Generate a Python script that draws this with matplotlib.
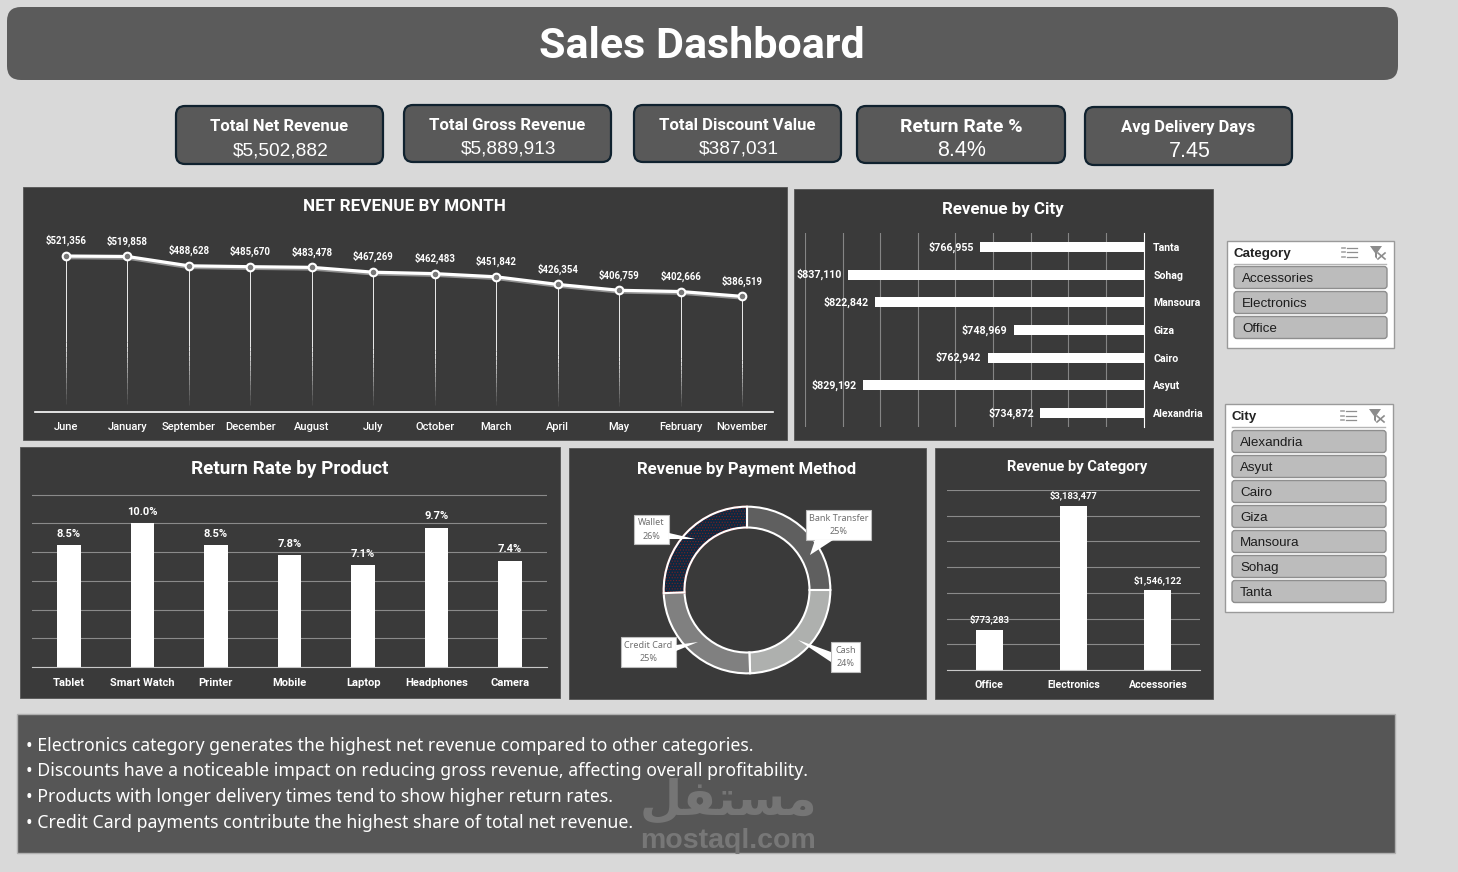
import numpy as np
import matplotlib
matplotlib.use('Agg')
import matplotlib.pyplot as plt
import matplotlib.patheffects as pe
from matplotlib.patches import FancyBboxPatch, Rectangle, Polygon, Wedge

# data
months = ['June', 'January', 'September', 'December', 'August', 'July', 'October', 'March', 'April', 'May', 'February', 'November']
month_rev = [521356, 519858, 488628, 485670, 483478, 467269, 462483, 451842, 426354, 406759, 402666, 386519]

cities = ['Tanta', 'Sohag', 'Mansoura', 'Giza', 'Cairo', 'Asyut', 'Alexandria']
city_rev = [766955, 837110, 822842, 748969, 762942, 829192, 734872]

products = ['Tablet', 'Smart Watch', 'Printer', 'Mobile', 'Laptop', 'Headphones', 'Camera']
return_rate = [8.5, 10.0, 8.5, 7.8, 7.1, 9.7, 7.4]

pay_names = ['Bank Transfer', 'Cash', 'Credit Card', 'Wallet']
pay_share = [25.0, 24.4, 25.0, 25.6]
pay_labels = ['25%', '24%', '25%', '26%']

categories = ['Office', 'Electronics', 'Accessories']
cat_rev = [773283, 3183477, 1546122]

kpi_titles = ['Total Net Revenue', 'Total Gross Revenue', 'Total Discount Value', 'Return Rate %', 'Avg Delivery Days']
kpi_values = ['$5,502,882', '$5,889,913', '$387,031', '8.4%', '7.45']

slicer_category = ['Accessories', 'Electronics', 'Office']
slicer_city = ['Alexandria', 'Asyut', 'Cairo', 'Giza', 'Mansoura', 'Sohag', 'Tanta']

notes = [
    '• Electronics category generates the highest net revenue compared to other categories.',
    '• Discounts have a noticeable impact on reducing gross revenue, affecting overall profitability.',
    '• Products with longer delivery times tend to show higher return rates.',
    '• Credit Card payments contribute the highest share of total net revenue.',
]

W, H = 1458, 872
HEAD = 'Roboto'
BODY = 'Liberation Sans'
NOTE = 'Noto Sans'
PANEL = '#3a3a3a'

fig = plt.figure(figsize=(W / 100, H / 100), dpi=100, facecolor='#d9d9d9')


def px_axes(x0, y0, x1, y1, z=2):
    # axes placed by pixel box, y measured from the top
    ax = fig.add_axes([x0 / W, 1 - y1 / H, (x1 - x0) / W, (y1 - y0) / H], zorder=z)
    ax.patch.set_alpha(0)
    return ax


def clean(ax, keep=()):
    for name, s in ax.spines.items():
        s.set_visible(name in keep)
    ax.tick_params(length=0)


bg = px_axes(0, 0, W, H, z=0)
bg.axis('off')
bg.set_xlim(0, W)
bg.set_ylim(H, 0)

bg.add_patch(FancyBboxPatch((21, 21), 1363, 45, boxstyle='round,pad=14,rounding_size=14', fc='#5b5b5b', ec='none'))
bg.add_patch(Rectangle((17, 714), 1378, 139, fc='#565656', ec='#b0b0b0', lw=1))
bg.text(702, 46, 'Sales Dashboard', color='white', fontsize=31, fontweight='bold', family=HEAD, ha='center', va='center')

# kpi cards
kpi_boxes = [(176, 106, 383, 164), (404, 105, 611, 162), (634, 105, 841, 162), (857, 106, 1065, 163), (1085, 107, 1292, 165)]
kpi_title_size = [12, 12.1, 12.1, 14, 12]
kpi_value_size = [13.8, 13.8, 13.8, 15.5, 15.5]
for (x0, y0, x1, y1), t, v, ts, vs in zip(kpi_boxes, kpi_titles, kpi_values, kpi_title_size, kpi_value_size):
    bg.add_patch(FancyBboxPatch((x0 + 9, y0 + 9), x1 - x0 - 18, y1 - y0 - 18, boxstyle='round,pad=9,rounding_size=9',
                                fc='#595959', ec='#10222f', lw=1.6))
    cx = (x0 + x1) / 2
    bg.text(cx, y0 + 20.5, t, color='white', fontsize=ts, fontweight='bold', family=HEAD, ha='center', va='center')
    bg.text(cx + 1, y0 + 44.5, v, color='white', fontsize=vs, family=BODY, ha='center', va='center')

# chart panels
panels = [(23, 187, 787, 440), (794, 189, 1213, 440), (20, 447, 560, 698), (569, 448, 926, 699), (935, 448, 1213, 699)]
for x0, y0, x1, y1 in panels:
    bg.add_patch(Rectangle((x0, y0), x1 - x0, y1 - y0, fc=PANEL, ec='#555555', lw=0.6))

bg.text(404, 206, 'NET REVENUE BY MONTH', color='white', fontsize=12.3, fontweight='bold', family=HEAD, ha='center', va='center')
bg.text(1003, 209, 'Revenue by City', color='white', fontsize=12.2, fontweight='bold', family=HEAD, ha='center', va='center')
bg.text(290, 469, 'Return Rate by Product', color='white', fontsize=13.6, fontweight='bold', family=HEAD, ha='center', va='center')
bg.text(747, 469, 'Revenue by Payment Method', color='white', fontsize=12.1, fontweight='bold', family=HEAD, ha='center', va='center')
bg.text(1077, 466.5, 'Revenue by Category', color='white', fontsize=10.6, fontweight='bold', family=HEAD, ha='center', va='center')

# net revenue by month
ax = px_axes(35, 232.5, 773, 412)
xs = np.arange(len(months))
ax.set_xlim(-0.5, len(months) - 0.5)
ax.set_ylim(0, 600000)
clean(ax, keep=('bottom',))
ax.spines['bottom'].set_color('white')
ax.spines['bottom'].set_linewidth(1.2)
for x, v in zip(xs, month_rev):
    ax.vlines(x, v * 0.45, v, color='white', lw=0.7, alpha=0.9)
    edges = np.linspace(0.05, 0.45, 13)
    for a, b in zip(edges[:-1], edges[1:]):
        ax.vlines(x, v * a, v * b, color='white', lw=0.7, alpha=0.9 * (b - 0.05) / 0.4)
ax.plot(xs, month_rev, color='white', lw=2.3, solid_capstyle='round',
        path_effects=[pe.SimpleLineShadow(offset=(0, -1.2), shadow_color='#9a9a9a', alpha=0.9), pe.Normal()])
ax.plot(xs, month_rev, ls='none', marker='o', ms=5.5, mfc='#777777', mec='white', mew=1.5)
for x, v in zip(xs, month_rev):
    ax.annotate('${:,}'.format(v), (x, v), xytext=(0, 7), textcoords='offset points', color='white',
                fontsize=6.9, fontweight='bold', family=HEAD, ha='center', va='bottom')
ax.set_xticks(xs, months, color='white', fontsize=8, family=HEAD, fontweight='medium')
ax.tick_params(axis='x', pad=7)
ax.set_yticks([])

# revenue by city, axis runs right to left and starts at 680k
ax = px_axes(805, 233, 1143.5, 427)
ax.set_xlim(860000, 680000)
ax.set_ylim(len(cities) - 0.5, -0.5)
ys = np.arange(len(cities))
ax.set_xticks(np.arange(680000, 860001, 20000))
ax.set_xticklabels([])
ax.grid(axis='x', color='#858585', lw=0.8)
ax.set_axisbelow(True)
clean(ax, keep=('right',))
ax.spines['right'].set_color('white')
ax.barh(ys, np.array(city_rev) - 680000, left=680000, height=0.36, color='white')
for y, v in zip(ys, city_rev):
    ax.annotate('${:,}'.format(v), (v, y), xytext=(-4.5, 0), textcoords='offset points', color='white',
                fontsize=7.7, fontweight='bold', family=HEAD, ha='right', va='center')
ax.yaxis.tick_right()
ax.set_yticks(ys, cities, color='white', fontsize=7.6, fontweight='bold', family=HEAD)
ax.tick_params(axis='y', pad=7)

# return rate by product
ax = px_axes(32, 494.5, 547, 667)
xs = np.arange(len(products))
ax.set_xlim(-0.5, len(products) - 0.5)
ax.set_ylim(0, 12)
ax.set_yticks(np.arange(0, 13, 2))
ax.set_yticklabels([])
ax.grid(axis='y', color='#8a8a8a', lw=0.8)
ax.set_axisbelow(True)
clean(ax, keep=('bottom',))
ax.spines['bottom'].set_color('#c8c8c8')
ax.bar(xs, return_rate, width=0.32, color='white')
for x, v in zip(xs, return_rate):
    ax.annotate('%.1f%%' % v, (x, v), xytext=(0, 4.5), textcoords='offset points', color='white',
                fontsize=8, fontweight='bold', family=HEAD, ha='center', va='bottom')
ax.set_xticks(xs, products, color='white', fontsize=8, fontweight='bold', family=HEAD)
ax.tick_params(axis='x', pad=8)

# revenue by category
ax = px_axes(947, 490, 1200, 670)
xs = np.arange(len(categories))
ax.set_xlim(-0.5, len(categories) - 0.5)
ax.set_ylim(0, 3500000)
ax.set_yticks(np.arange(0, 3500001, 500000))
ax.set_yticklabels([])
ax.grid(axis='y', color='#8a8a8a', lw=0.8)
ax.set_axisbelow(True)
clean(ax, keep=('bottom',))
ax.spines['bottom'].set_color('#c8c8c8')
ax.bar(xs, cat_rev, width=0.32, color='white')
for x, v in zip(xs, cat_rev):
    ax.annotate('${:,}'.format(v), (x, v), xytext=(0, 4), textcoords='offset points', color='white',
                fontsize=6.8, fontweight='bold', family=HEAD, ha='center', va='bottom')
ax.set_xticks(xs, categories, color='white', fontsize=7.6, fontweight='bold', family=HEAD)
ax.tick_params(axis='x', pad=7)

# payment donut
ax = px_axes(647, 490, 847, 690)
matplotlib.rcParams['hatch.linewidth'] = 0.5
wedges, _ = ax.pie(pay_share, startangle=90, counterclock=False, radius=1,
                   colors=['#5f5f5f', '#aeb0ae', '#808080', '#0e2841'],
                   wedgeprops=dict(width=0.25, edgecolor='white', linewidth=1.5))
# hatch colour follows the edge, so the dots get a red edge and a white outline goes on top
w = wedges[3]
w.set_hatch('......')
w.set_edgecolor('#7d2020')
ax.add_patch(Wedge(w.center, w.r, w.theta1, w.theta2, width=w.width, fc='none', ec='white', lw=1.5))
ax.set_xlim(-1.2, 1.2)
ax.set_ylim(-1.2, 1.2)

top = px_axes(0, 0, W, H, z=5)
top.set_xlim(0, W)
top.set_ylim(H, 0)
top.axis('off')

# callouts for the donut
callouts = {
    'Bank Transfer': ((806, 510, 871, 540), [(815, 540), (833, 540), (810, 555)]),
    'Cash': ((831, 642, 860, 672), [(831, 652), (831, 662), (798, 640)]),
    'Credit Card': ((621, 637, 676, 667), [(676, 645), (676, 651), (698, 642)]),
    'Wallet': ((634, 515, 669, 544), [(669, 533), (669, 539), (695, 539)]),
}
for name, lab in zip(pay_names, pay_labels):
    (x0, y0, x1, y1), tail = callouts[name]
    top.add_patch(Rectangle((x0, y0), x1 - x0, y1 - y0, fc='white', ec='#bdbdbd', lw=0.8))
    top.add_patch(Polygon(tail, fc='white', ec='none'))
    top.text((x0 + x1) / 2, (y0 + y1) / 2, name + '\n' + lab, color='#6f6f6f', fontsize=6.5, family=NOTE,
             ha='center', va='center', linespacing=1.65)

# slicers
slicers = [('Category', (1227, 241, 1394, 348), slicer_category, 25.5), ('City', (1225, 404, 1393, 612), slicer_city, 26.5)]
for title, (x0, y0, x1, y1), items, first in slicers:
    bg.add_patch(Rectangle((x0, y0), x1 - x0, y1 - y0, fc='white', ec='#9a9a9a', lw=1))
    bg.text(x0 + 7, y0 + 12.5, title, color='#222222', fontsize=9.6, family=BODY, fontweight='bold', ha='left', va='center')
    bg.plot([x0 + 7, x1 - 8], [y0 + 23, y0 + 23], color='#b5b5b5', lw=1)
    # multi select icon
    for k in range(3):
        bg.plot([x1 - 47, x1 - 37], [y0 + 7 + k * 4.5] * 2, color='#8f8f8f', lw=0.9)
        bg.plot([x1 - 52, x1 - 49], [y0 + 7 + k * 4.5] * 2, color='#a5a5a5', lw=1.2)
    # clear filter icon
    bg.add_patch(Polygon([(x1 - 24, y0 + 5), (x1 - 12, y0 + 5), (x1 - 17, y0 + 12), (x1 - 17, y0 + 18), (x1 - 19, y0 + 16), (x1 - 19, y0 + 12)], fc='#8c8c8c', ec='none'))
    bg.plot([x1 - 16, x1 - 9], [y0 + 12, y0 + 18], color='#8c8c8c', lw=1.2)
    bg.plot([x1 - 16, x1 - 9], [y0 + 18, y0 + 12], color='#8c8c8c', lw=1.2)
    for i, item in enumerate(items):
        iy = y0 + first + i * 25
        bg.add_patch(FancyBboxPatch((x0 + 10, iy + 3), x1 - x0 - 20, 16, boxstyle='round,pad=3,rounding_size=3',
                                    fc='#bcbcbc', ec='#8e8e8e', lw=1))
        bg.text(x0 + 15, iy + 12, item, color='#1c1c1c', fontsize=9.6, family=BODY, ha='left', va='center')

# watermark under the notes
bg.text(728, 800, '\ufede\ufed4\ufe98\ufeb4\ufee3', color='#757575', fontsize=35, family='DejaVu Sans', fontweight='bold', ha='center', va='center')
bg.text(728, 841, 'mostaql.com', color='#777777', fontsize=20.5, family=BODY, fontweight='bold', ha='center', va='center')

# takeaways
for y, line in zip([746, 771, 797, 823], notes):
    bg.text(26, y, line, color='white', fontsize=12.75, family=NOTE, ha='left', va='center')

fig.savefig('out.png', dpi=100, facecolor=fig.get_facecolor())
